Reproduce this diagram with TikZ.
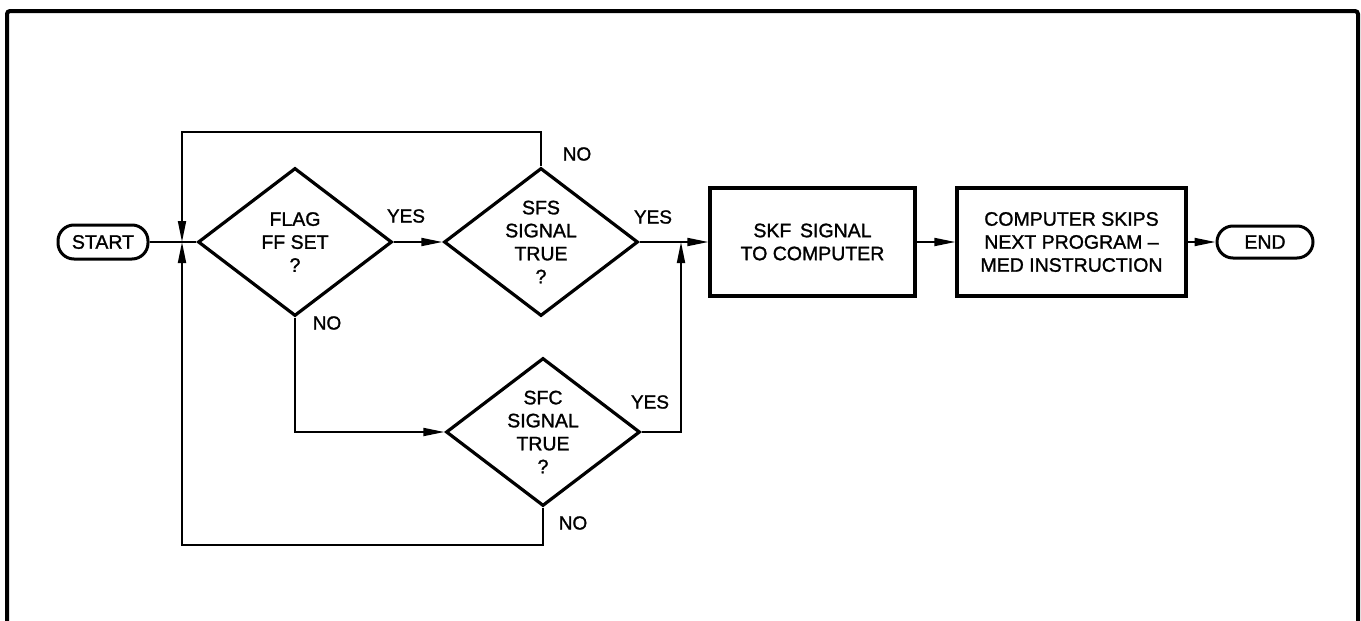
\documentclass[tikz,border=0pt]{standalone}
\usepackage{fontspec}
\setmainfont{Liberation Sans}[BoldFont=Liberation Sans, BoldFeatures={FakeBold=1.3}]
\usetikzlibrary{shapes.geometric,arrows.meta}
\begin{document}
\begin{tikzpicture}[x=1pt,y=-1pt,
  txt/.style={font=\bfseries\fontsize{19.5}{23}\selectfont},
  dec/.style={diamond, draw, line width=3.2pt, minimum width=194pt, minimum height=148pt,
              inner sep=0pt, aspect=1.3, align=center, txt},
  proc/.style={rectangle, draw, line width=3.2pt, align=center, inner sep=0pt, txt},
  term/.style={rectangle, rounded corners=16pt, draw, line width=3pt, inner sep=0pt, txt},
  conn/.style={line width=1.8pt},
  arr/.style={conn, -{Triangle[length=21pt,width=8pt]}},
  lbl/.style={font=\bfseries\fontsize{19}{20}\selectfont, inner sep=0pt}
]
\useasboundingbox (0,0) rectangle (1361,621);
% frame
\draw[line width=4pt, rounded corners=3pt] (7,640) -- (7,11) -- (1358,11) -- (1358,640);

% nodes
\node[term, minimum width=90pt, minimum height=34pt] (start) at (103,242) {START};
\node[dec] (flag) at (295,242) {FLAG\\FF SET\\?};
\node[dec] (sfs) at (541,242) {SFS\\SIGNAL\\TRUE\\?};
\node[dec] (sfc) at (543,432) {SFC\\SIGNAL\\TRUE\\?};
\node[proc, minimum width=205pt, minimum height=108pt] (skf) at (812.5,242) {SKF\, SIGNAL\\TO COMPUTER};
\node[proc, minimum width=229pt, minimum height=108pt] (comp) at (1071.5,242) {COMPUTER SKIPS\\NEXT PROGRAM --\\MED INSTRUCTION};
\node[term, minimum width=96pt, minimum height=32pt] (end) at (1265,242) {END};

% junction coordinates
\coordinate (j1) at (182,242);
\coordinate (j1top) at (182,132);
\coordinate (j1bot) at (182,545);
\coordinate (j2) at (681,242);

% connectors
\draw[conn] (start.east) -- (flag.west);
\draw[arr] (flag.east) -- (sfs.west);
\draw[arr] (sfs.east) -- (skf.west);
\draw[arr] (sfc.east) -| (j2);
\draw[arr] (sfs.north) |- (j1top) -- (j1);
\draw[arr] (flag.south) |- (sfc.west);
\draw[arr] (sfc.south) |- (j1bot) -- (j1);
\draw[arr] (skf.east) -- (comp.west);
\draw[arr] (comp.east) -- (end.west);

% labels
\node[lbl] (yes1) at (406,216) {YES};
\node[lbl] (no1) at (327,323) {NO};
\node[lbl] (no2) at (577,154) {NO};
\node[lbl] (yes2) at (653,217) {YES};
\node[lbl] (yes3) at (650,402) {YES};
\node[lbl] (no3) at (573,523) {NO};
\end{tikzpicture}
\end{document}
